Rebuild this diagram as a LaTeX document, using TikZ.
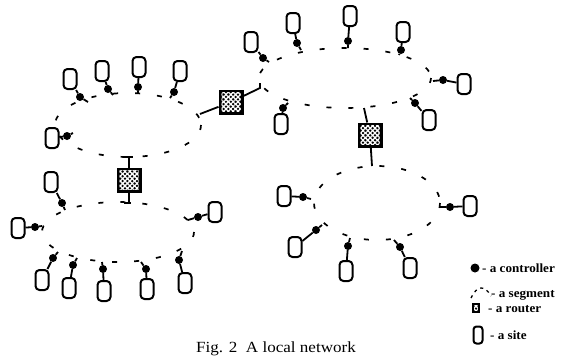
\documentclass[tikz,border=0pt]{standalone}
\usepackage{fontspec}
\usepackage{graphicx}
\setmainfont{Liberation Serif}
\usetikzlibrary{patterns.meta}
\tikzset{
  site/.style={draw=black, line width=2pt, rounded corners=4pt, minimum width=13pt, minimum height=20pt, inner sep=0pt},
  ctrl/.style={circle, fill=black, minimum size=8pt, inner sep=0pt},
  hatchin/.style={path picture={
      \fill[pattern={Lines[angle=45,distance=3.4pt,line width=1.3pt]},pattern color=white]
        ([shift={(#1,#1)}]path picture bounding box.south west) rectangle ([shift={(-#1,-#1)}]path picture bounding box.north east);
      \fill[pattern={Lines[angle=-45,distance=3.4pt,line width=1.3pt]},pattern color=white]
        ([shift={(#1,#1)}]path picture bounding box.south west) rectangle ([shift={(-#1,-#1)}]path picture bounding box.north east);}},
  router/.style={rectangle, fill=black, draw=black, line width=1pt, minimum size=24pt, inner sep=0pt, hatchin=2.5pt},
  minirouter/.style={rectangle, fill=black, draw=black, line width=0.8pt, minimum width=7pt, minimum height=9pt, inner sep=0pt, hatchin=1.6pt},
  seg/.style={line width=1.7pt, dash pattern=on 5pt off 17pt},
  link/.style={line width=1.8pt},
  lbl/.style={font=\bfseries\fontsize{12.5}{14}\selectfont, anchor=west, inner sep=0pt}
}
\begin{document}
\begin{tikzpicture}[x=1pt,y=-1pt]
\useasboundingbox (0,0) rectangle (563,359);

% segments (ellipses)
\draw[seg] (128,125) ellipse [x radius=73, y radius=32];
\draw[seg] (118,232) ellipse [x radius=76, y radius=30];
\draw[seg] (345,78) ellipse [x radius=86, y radius=30];
\draw[seg] (377,203) ellipse [x radius=63, y radius=37];

% routers
\node[router] (r1) at (231,102) {};
\node[router] (r2) at (370,135) {};
\node[router] (r3) at (129,180) {};
\coordinate (r1w) at (200,114);
\coordinate (r1e) at (260,88);
\coordinate (r1e2) at (260,83);
\coordinate (r2n) at (364,108);
\coordinate (r2s) at (372,166);
\coordinate (r3n) at (129,157);
\coordinate (r3s) at (129,203);
\draw[link] (r1) -- (r1w);
\draw[link] (r1) -- (r1e) -- (r1e2);
\draw[link] (r2) -- (r2n);
\draw[link] (r2) -- (r2s);
\draw[link] (r3) -- (r3n);
\draw[link] (r3) -- (r3s);
\draw[link] (r3n) ++(-4,0) -- ++(8,0);
\draw[link] (r3s) ++(-5,0) -- ++(7,0);

% sites, controllers, attachment points
\foreach \i/\sx/\sy/\cx/\cy/\tx/\ty in {
  1/70/79/80/97/88/102,
  2/102/71/108/89/113/95,
  3/139/67/138/87/138/93,
  4/180/71/174/92/170/98,
  5/52/138/67/136/73/133,
  6/51/182/62/203/65/210,
  7/18/228/35/227/42/226,
  8/215/212/198/217/188/220,
  9/42/280/53/258/58/252,
  10/69/288/73/265/77/258,
  11/104/291/103/269/102/262,
  12/147/289/146/269/141/262,
  13/185/283/179/260/182/251,
  14/251/42/263/58/269/62,
  15/293/23/297/43/301/50,
  16/350/16/348/41/348/48,
  17/403/32/401/50/399/55,
  18/464/84/443/80/433/81,
  19/281/124/283/108/288/103,
  20/429/120/415/103/410/98,
  21/284/196/303/197/311/199,
  22/295/247/316/230/322/225,
  23/346/271/348/246/350/238,
  24/410/268/400/247/394/240,
  25/470/206/450/207/440/207}{
  \node[site] (s\i) at (\sx,\sy) {};
  \node[ctrl] (c\i) at (\cx,\cy) {};
  \coordinate (t\i) at (\tx,\ty);
  \draw[link] (s\i) -- (c\i) -- (t\i);
}

% legend
\node[ctrl, minimum size=9pt] (cl) at (475,268) {};
\node[lbl] (cltxt) at (482,268) {\scalebox{1.05}[1]{- a controller}};
\coordinate (sega) at (471,298);
\coordinate (segb) at (491,296);
\draw[line width=1.3pt, dash pattern=on 3pt off 4pt] (sega) .. controls (477,285) and (485,285) .. (segb);
\node[lbl] (segtxt) at (491,295) {\scalebox{1.05}[1]{- a segment}};
\node[minirouter] (rl) at (476,308) {};
\node[lbl] (rltxt) at (488,309) {\scalebox{1.05}[1]{- a router}};
\node[site, minimum width=9pt, minimum height=17pt, rounded corners=3pt] (sl) at (478,335) {};
\node[lbl] (sltxt) at (490,335) {\scalebox{1.05}[1]{- a site}};

% caption
\node[font=\fontsize{15.5}{18}\selectfont, inner sep=0pt] (cap) at (276,349) {\scalebox{1.1}[1]{Fig. 2\ \ A local network}};
\end{tikzpicture}
\end{document}
